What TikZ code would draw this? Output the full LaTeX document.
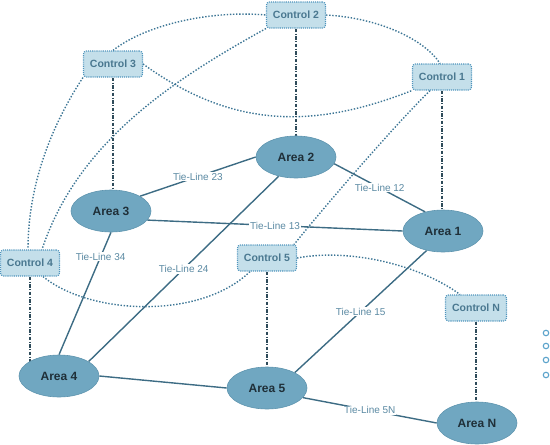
\documentclass[tikz,border=0pt]{standalone}
\usepackage{fontspec}
\setmainfont{Liberation Sans}
\usetikzlibrary{backgrounds,shapes.geometric}
\definecolor{areafill}{HTML}{70A7C1}
\definecolor{areaedge}{HTML}{5F95AF}
\definecolor{areatext}{HTML}{1F2F38}
\definecolor{ctrlfill}{HTML}{C4DFEA}
\definecolor{ctrledge}{HTML}{4E94BC}
\definecolor{ctrltext}{HTML}{4A7890}
\definecolor{dotcol}{HTML}{3C7595}
\definecolor{dashcol}{HTML}{2E4B5A}
\definecolor{tiecol}{HTML}{3D6C84}
\definecolor{tietext}{HTML}{5B8AA3}
\definecolor{moredots}{HTML}{5BA3CB}
\tikzset{
  area/.style={ellipse, draw=areaedge, line width=0.6pt, fill=areafill, minimum width=80pt, minimum height=42pt, inner sep=0pt, text=areatext, font=\fontsize{12}{14}\selectfont\bfseries},
  ctrl/.style={rectangle, rounded corners=3pt, draw=ctrledge, fill=ctrlfill, line width=1.1pt, dash pattern=on 1.1pt off 1pt, minimum width=59pt, minimum height=26pt, inner sep=0pt, text=ctrltext, font=\fontsize{10.5}{12}\selectfont\bfseries},
  commlink/.style={draw=dotcol, line width=1.4pt, dash pattern=on 1.4pt off 1.7pt},
  ctrllink/.style={draw=dashcol, line width=1.3pt, dash pattern=on 3.5pt off 1.5pt on 1pt off 1.5pt},
  tie/.style={draw=tiecol, line width=1.4pt},
  tielabel/.style={fill=white, inner sep=1pt, text=tietext, font=\fontsize{10}{12}\selectfont},
  moredot/.style={circle, draw=moredots, fill=white, line width=1.1pt, minimum size=5.5pt, inner sep=0pt}
}
\begin{document}
\begin{tikzpicture}[x=1pt,y=-1pt]
\useasboundingbox (0,0) rectangle (550,445);
% control nodes
\node[ctrl] (c2) at (296,15) {Control 2};
\node[ctrl] (c3) at (113,64) {Control 3};
\node[ctrl] (c1) at (442,77) {Control 1};
\node[ctrl] (c4) at (30,263) {Control 4};
\node[ctrl] (c5) at (267,258) {Control 5};
\node[ctrl, minimum width=61pt] (cN) at (476,308) {Control N};
% area nodes
\node[area] (a2) at (296,157) {Area 2};
\node[area] (a3) at (111,211) {Area 3};
\node[area] (a1) at (443,231) {Area 1};
\node[area] (a4) at (59,376) {Area 4};
\node[area] (a5) at (267,388) {Area 5};
\node[area] (aN) at (477,423) {Area N};
% more areas
\node[moredot] (d1) at (546,333) {};
\node[moredot] (d2) at (546,346) {};
\node[moredot] (d3) at (546,360) {};
\node[moredot] (d4) at (546,375) {};
\begin{scope}[on background layer]
  % communication links between controls
  \draw[commlink] (c3.north) .. controls (145,25) and (210,10) .. (c2.west);
  \draw[commlink] (c2.south west) .. controls (169,82) and (77,144) .. ([xshift=12pt]c4.north);
  \draw[commlink] (c3.south west) .. controls (55,120) and (28,180) .. ([xshift=-2pt]c4.north);
  \draw[commlink] (c3.east) .. controls (233,129) and (314,129) .. (c1.south west);
  \draw[commlink] (c2.east) .. controls (380,18) and (425,40) .. ([xshift=-2pt]c1.north);
  \draw[commlink] ([xshift=-12pt]c1.south) .. controls (395,125) and (330,200) .. ([xshift=-3pt]c5.north east);
  \draw[commlink] ([xshift=13pt]c4.south) .. controls (90,315) and (200,320) .. ([xshift=-17pt]c5.south);
  \draw[commlink] (c5.east) .. controls (350,248) and (420,265) .. ([xshift=-16pt]cN.north);
  % control to area links
  \draw[ctrllink] (c2.south) -- (c2.south |- a2.center);
  \draw[ctrllink] (c3.south) -- (c3.south |- a3.center);
  \draw[ctrllink] (c1.south) -- (c1.south |- a1.center);
  \draw[ctrllink] (c4.south) -- (c4.south |- a4.center);
  \draw[ctrllink] (c5.south) -- (c5.south |- a5.center);
  \draw[ctrllink] (cN.south) -- (cN.south |- aN.center);
  % tie lines
  \draw[tie] (a3.27) -- (a2.west) node[tielabel, pos=.5] (l23) {Tie-Line 23};
  \draw[tie] (a2.-10) -- (a1.133) node[tielabel, pos=.5] (l12) {Tie-Line 12};
  \draw[tie] (a3.-14) -- (a1.west) node[tielabel, pos=.5] (l13) {Tie-Line 13};
  \draw[tie] (a3.south) -- (a4.north) node[tielabel, pos=.2] (l34) {Tie-Line 34};
  \draw[tie] (a2.228) -- (a4.26) node[tielabel, pos=.5] (l24) {Tie-Line 24};
  \draw[tie] (a1.230) -- (a5.29) node[tielabel, pos=.5] (l15) {Tie-Line 15};
  \draw[tie] (a4.east) -- (a5.west);
  \draw[tie] (a5.-15) -- (aN.west) node[tielabel, pos=.5] (l5N) {Tie-Line 5N};
\end{scope}
\end{tikzpicture}
\end{document}
